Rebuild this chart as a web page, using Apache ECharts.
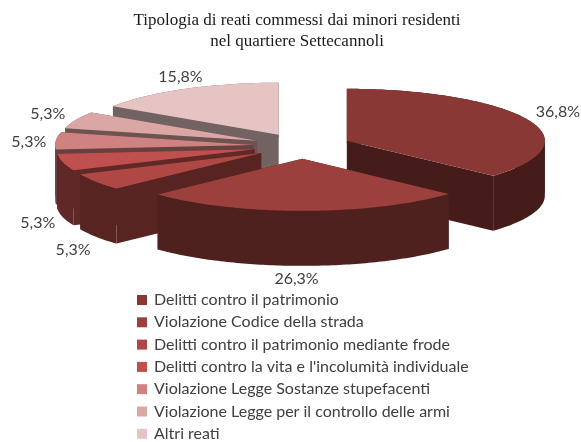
<!DOCTYPE html>
<html>
<head>
<meta charset="utf-8">
<script src="https://cdn.jsdelivr.net/npm/echarts@6/dist/echarts.min.js"></script>
<style>
  html, body { margin: 0; background: #fff; }
  #main { width: 581px; height: 442px; }
</style>
</head>
<body>
<div id="main"></div>
<script>
const categories = [
  "Delitti contro il patrimonio",
  "Violazione Codice della strada",
  "Delitti contro il patrimonio mediante frode",
  "Delitti contro la vita e l'incolumità individuale",
  "Violazione Legge Sostanze stupefacenti",
  "Violazione Legge per il controllo delle armi",
  "Altri reati"
];
const percentages = [36.8, 26.3, 5.3, 5.3, 5.3, 5.3, 15.8];
const topColors = ["#8a3835", "#9c403d", "#af4845", "#c0504d", "#cf8280", "#dba7a5", "#e6c4c3"];
const sideColors = ["#451c19", "#4e201e", "#582422", "#602826", "#664140", "#6d5352", "#736262"];
// where each label sits relative to the rim of its slice
const labelOffsets = [[30, -8], [-7, 68], [-23, 68], [-25, 61], [-27, 1], [-28, -6], [-4, -12]];

// fake 3D pie: squashed ellipses, extruded downwards
const centerX = 302, centerY = 146;
const radiusX = 198, radiusY = 52, depth = 55, explode = 49;
const squash = radiusY / radiusX;

const total = percentages.reduce((a, b) => a + b, 0);
const slices = [];
let acc = 0;
percentages.forEach((v, i) => {
  const start = acc / total * 360;
  acc += v;
  const end = acc / total * 360;
  const mid = (start + end) / 2 * Math.PI / 180;
  slices.push({
    i, start, end, mid,
    cx: centerX + explode * Math.sin(mid),
    cy: centerY - explode * squash * Math.cos(mid)
  });
});
// back slices first
const rank = slices.slice().sort((a, b) => a.cy - b.cy).map(s => s.i);

function rimPoint(s, deg, dy) {
  const a = deg * Math.PI / 180;
  return [s.cx + radiusX * Math.sin(a), s.cy - radiusY * Math.cos(a) + dy];
}

function rimPoints(s, from, to, dy) {
  const pts = [];
  for (let d = from; d < to; d += 1) {
    pts.push(rimPoint(s, d, dy));
  }
  pts.push(rimPoint(s, to, dy));
  return pts;
}

function renderSlice(params, api) {
  const s = slices[params.seriesIndex];
  const apex = [s.cx, s.cy], apexLow = [s.cx, s.cy + depth];
  const wall = { fill: sideColors[s.i] };
  const poly = (points, style) => ({ type: "polygon", shape: { points }, style });
  const rimMid = rimPoint(s, (s.start + s.end) / 2, 0);
  const off = labelOffsets[s.i];

  const startTop = rimPoint(s, s.start, 0), startLow = rimPoint(s, s.start, depth);
  const endTop = rimPoint(s, s.end, 0), endLow = rimPoint(s, s.end, depth);
  const children = [
    poly([apex, startTop, startLow, apexLow], wall),
    poly([apex, endTop, endLow, apexLow], wall)
  ];
  // the rim curls back at 90 and 270 degrees, a wall across those would cross itself
  const breaks = [s.start].concat([90, 270].filter(b => b > s.start && b < s.end), [s.end]);
  for (let k = 0; k < breaks.length - 1; k++) {
    const upper = rimPoints(s, breaks[k], breaks[k + 1], 0);
    const lower = rimPoints(s, breaks[k], breaks[k + 1], depth);
    children.push(poly(upper.concat(lower.reverse()), wall));
  }
  children.push(poly([apex].concat(rimPoints(s, s.start, s.end, 0)), { fill: topColors[s.i] }));
  children.push({
    type: "text",
    z2: 100,
    x: rimMid[0] + off[0],
    y: rimMid[1] + off[1],
    style: {
      text: percentages[s.i].toFixed(1).replace(".", ",") + "%",
      font: "16px Lato",
      fill: "#404040",
      align: "center",
      verticalAlign: "middle"
    }
  });
  return { type: "group", children };
}

const myChart = echarts.init(document.getElementById("main"));
myChart.setOption({
  animation: false,
  backgroundColor: "#fff",
  title: {
    text: "Tipologia di reati commessi dai minori residenti\nnel quartiere Settecannoli",
    left: 292,
    top: 5,
    textAlign: "center",
    textStyle: {
      fontFamily: "Liberation Serif",
      fontSize: 17,
      fontWeight: "normal",
      color: "#1a1a1a",
      lineHeight: 21
    }
  },
  legend: {
    orient: "vertical",
    left: 137,
    top: 291,
    height: 170,
    padding: 0,
    itemWidth: 10,
    itemHeight: 10,
    itemGap: 4.3,
    icon: "rect",
    selectedMode: false,
    data: categories,
    textStyle: {
      fontFamily: "Lato",
      fontSize: 16,
      color: "#404040",
      lineHeight: 18,
      padding: [0, 0, 0, 2]
    }
  },
  series: categories.map((name, i) => ({
    name,
    type: "custom",
    coordinateSystem: "none",
    silent: true,
    z: 2 + rank.indexOf(i),
    itemStyle: { color: topColors[i] },
    renderItem: renderSlice,
    data: [[percentages[i]]]
  }))
});
</script>
</body>
</html>
